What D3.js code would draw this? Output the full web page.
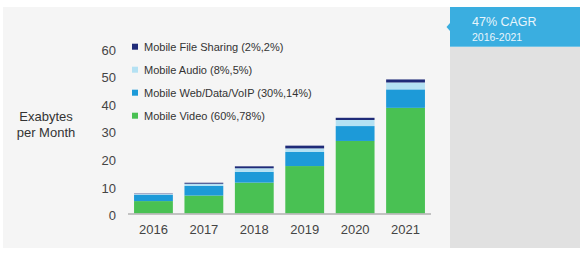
<!DOCTYPE html>
<html><head><meta charset="utf-8">
<script src="https://cdn.jsdelivr.net/npm/d3@7"></script>
<style>html,body{margin:0;padding:0;background:#fff;}svg{display:block;}</style>
</head><body>
<svg id="c" width="586" height="253"></svg>
<script>
const years = ["2016","2017","2018","2019","2020","2021"];
const seriesNames = ["Mobile Video (60%,78%)","Mobile Web/Data/VoIP (30%,14%)","Mobile Audio (8%,5%)","Mobile File Sharing (2%,2%)"];
const video = [4.5, 6.5, 11.2, 17.2, 26.3, 38.3];
const web = [2.3, 3.5, 3.9, 5.1, 5.4, 6.7];
const audio = [0.25, 0.8, 1.3, 1.3, 2.2, 2.5];
const fileSharing = [0.15, 0.35, 0.7, 1.0, 0.8, 1.1];
const yTicks = [0, 10, 20, 30, 40, 50, 60];
const colors = ["#49c153", "#1d9ad8", "#b4e1f3", "#1f2b78"];

const svg = d3.select("#c");
const font = "'Liberation Sans', Arial, sans-serif";

// backgrounds
svg.append("rect").attr("x",3).attr("y",7).attr("width",447).attr("height",241).attr("fill","#f5f5f5");
svg.append("rect").attr("x",450).attr("y",46.7).attr("width",130).attr("height",201.3).attr("fill","#e1e1e1");
svg.append("rect").attr("x",450).attr("y",7).attr("width",130).attr("height",39.7).attr("fill","#3aaee0");
svg.append("path").attr("d","M450,23 L446.5,27 L450,31 Z").attr("fill","#3aaee0");
svg.append("text").attr("x",472).attr("y",26).attr("font-family",font).attr("font-size",12.5).attr("fill","#e8f5fc").text("47% CAGR");
svg.append("text").attr("x",472).attr("y",41).attr("font-family",font).attr("font-size",10.5).attr("fill","#e8f5fc").text("2016-2021");

const rows = years.map((y,i)=>({year:y, video:video[i], web:web[i], audio:audio[i], file:fileSharing[i]}));
const keys = ["video","web","audio","file"];
const stack = d3.stack().keys(keys)(rows);

const x = d3.scaleBand().domain(years).range([128,431]).paddingInner(0.23).paddingOuter(0.12);
const y = d3.scaleLinear().domain([0,60]).range([213.5,48]);

svg.append("g").selectAll("g").data(stack).join("g")
  .attr("fill",(d,i)=>colors[i])
  .selectAll("rect").data(d=>d).join("rect")
  .attr("x",d=>x(d.data.year)).attr("width",x.bandwidth())
  .attr("y",d=>y(d[1])).attr("height",d=>y(d[0])-y(d[1]));

// baseline
svg.append("line").attr("x1",128).attr("x2",431).attr("y1",y(0)+0.5).attr("y2",y(0)+0.5)
  .attr("stroke","#b0b0b0").attr("stroke-width",1.5);

// y tick labels
const yAxis = d3.axisLeft(y).tickValues(yTicks).tickSize(0).tickPadding(0);
const yg = svg.append("g").attr("transform","translate(116,2)").call(yAxis);
yg.select(".domain").remove();
yg.selectAll("text").attr("font-family",font).attr("font-size",13).attr("fill","#444");

// x labels
const xAxis = d3.axisBottom(x).tickSize(0).tickPadding(0);
const xg = svg.append("g").attr("transform","translate(0,225)").call(xAxis);
xg.select(".domain").remove();
xg.selectAll("text").attr("font-family",font).attr("font-size",13).attr("fill","#444");

// y title
const t = svg.append("text").attr("font-family",font).attr("font-size",13).attr("fill","#333").attr("text-anchor","middle");
t.append("tspan").attr("x",46).attr("y",121).text("Exabytes");
t.append("tspan").attr("x",46).attr("y",136.5).text("per Month");

// legend (top to bottom: file sharing, audio, web, video)
const legendOrder = [3,2,1,0];
const lg = svg.append("g");
legendOrder.forEach((si,row)=>{
  const cy = 46.7 + row*23;
  lg.append("rect").attr("x",132).attr("y",cy-3).attr("width",6).attr("height",6).attr("fill",colors[si]);
  lg.append("text").attr("x",144).attr("y",cy+4).attr("font-family",font).attr("font-size",11).attr("fill","#333").text(seriesNames[si]);
});
</script>
</body></html>
